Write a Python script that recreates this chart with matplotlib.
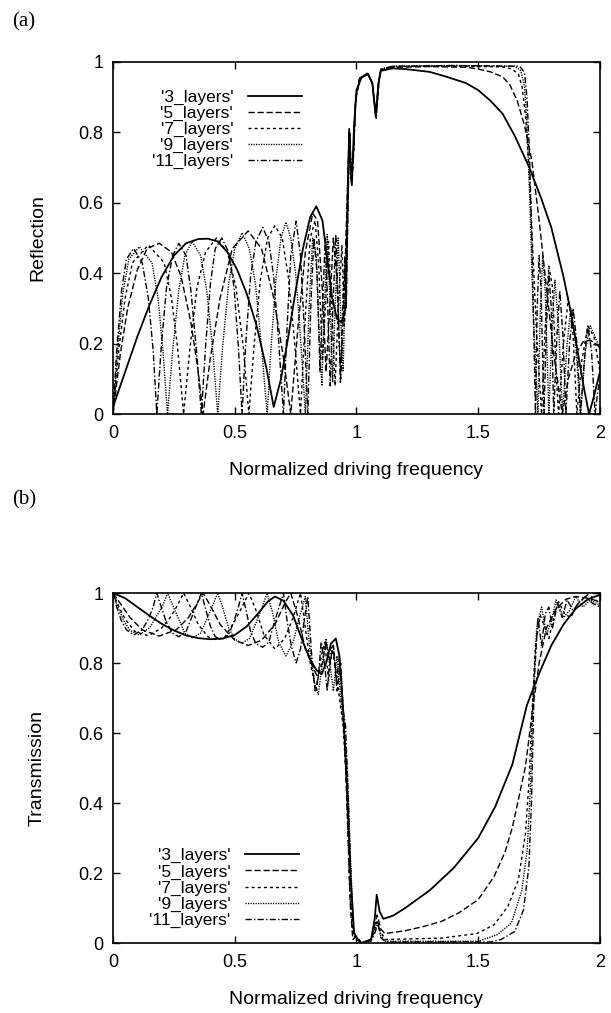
# -*- coding: utf-8 -*-
import numpy as np
from matplotlib import pyplot as plt

# (frequency, value) pairs
labels = ["'3_layers'", "'5_layers'", "'7_layers'", "'9_layers'", "'11_layers'"]

refl_3 = [(0.00, 0.02), (0.03, 0.08), (0.06, 0.14), (0.10, 0.22), (0.15, 0.31), (0.20, 0.39),
          (0.25, 0.45), (0.30, 0.485), (0.35, 0.497), (0.39, 0.498), (0.43, 0.49), (0.47, 0.46),
          (0.51, 0.41), (0.55, 0.34), (0.59, 0.25), (0.63, 0.13), (0.66, 0.02), (0.69, 0.10),
          (0.72, 0.22), (0.75, 0.35), (0.78, 0.47), (0.81, 0.56), (0.835, 0.59), (0.86, 0.55),
          (0.88, 0.44), (0.90, 0.33), (0.92, 0.27), (0.94, 0.26), (0.955, 0.30), (0.962, 0.55),
          (0.970, 0.81), (0.976, 0.70), (0.981, 0.65), (0.99, 0.82), (1.00, 0.92), (1.02, 0.955),
          (1.048, 0.966), (1.065, 0.94), (1.079, 0.845), (1.09, 0.94), (1.10, 0.975), (1.15, 0.982),
          (1.20, 0.98), (1.30, 0.972), (1.37, 0.958), (1.45, 0.94), (1.50, 0.92), (1.55, 0.89),
          (1.60, 0.853), (1.65, 0.79), (1.71, 0.70), (1.76, 0.61), (1.80, 0.53), (1.85, 0.39),
          (1.88, 0.29), (1.91, 0.17), (1.935, 0.07), (1.955, 0.0), (1.975, 0.05), (2.00, 0.12)]

refl_5 = [(0.00, 0.0), (0.03, 0.17), (0.06, 0.30), (0.10, 0.41), (0.14, 0.47), (0.19, 0.485),
          (0.24, 0.46), (0.28, 0.39), (0.32, 0.26), (0.35, 0.12), (0.37, 0.0), (0.40, 0.16),
          (0.44, 0.33), (0.49, 0.47), (0.555, 0.52), (0.61, 0.47), (0.66, 0.33), (0.70, 0.16),
          (0.73, 0.0), (0.76, 0.25), (0.79, 0.46), (0.82, 0.57), (0.84, 0.55), (0.86, 0.35),
          (0.875, 0.12), (0.89, 0.30), (0.905, 0.50), (0.92, 0.38), (0.935, 0.10), (0.95, 0.35),
          (0.962, 0.62), (0.970, 0.80), (0.978, 0.66), (0.985, 0.70), (0.995, 0.88), (1.01, 0.95),
          (1.045, 0.967), (1.065, 0.94), (1.08, 0.85), (1.09, 0.94), (1.10, 0.978), (1.15, 0.985),
          (1.30, 0.987), (1.45, 0.985), (1.50, 0.98), (1.55, 0.972), (1.60, 0.958), (1.63, 0.935),
          (1.66, 0.89), (1.69, 0.82), (1.72, 0.72), (1.75, 0.55), (1.78, 0.36), (1.81, 0.17),
          (1.845, 0.0), (1.87, 0.10), (1.90, 0.17), (1.93, 0.205), (1.96, 0.21), (1.98, 0.20),
          (2.00, 0.19)]

refl_7 = [(0.00, 0.0), (0.025, 0.19), (0.05, 0.33), (0.08, 0.43), (0.145, 0.48), (0.21, 0.43),
          (0.24, 0.33), (0.265, 0.19), (0.29, 0.0), (0.315, 0.18), (0.345, 0.36), (0.38, 0.46),
          (0.425, 0.50), (0.47, 0.46), (0.505, 0.36), (0.535, 0.19), (0.558, 0.0), (0.58, 0.20),
          (0.605, 0.38), (0.635, 0.50), (0.665, 0.535), (0.695, 0.50), (0.72, 0.39), (0.745, 0.21),
          (0.77, 0.0), (0.79, 0.28), (0.81, 0.50), (0.83, 0.55), (0.845, 0.42), (0.86, 0.15),
          (0.872, 0.30), (0.885, 0.49), (0.90, 0.28), (0.912, 0.08), (0.925, 0.30), (0.94, 0.48),
          (0.95, 0.25), (0.958, 0.35), (0.966, 0.65), (0.972, 0.80), (0.979, 0.66), (0.987, 0.72),
          (0.997, 0.90), (1.015, 0.955), (1.045, 0.968), (1.065, 0.94), (1.081, 0.84), (1.092, 0.94),
          (1.10, 0.978), (1.15, 0.987), (1.40, 0.988), (1.60, 0.986), (1.64, 0.98), (1.665, 0.965),
          (1.68, 0.93), (1.695, 0.84), (1.71, 0.68), (1.725, 0.45), (1.74, 0.22), (1.76, 0.0),
          (1.775, 0.25), (1.79, 0.42), (1.805, 0.36), (1.82, 0.12), (1.83, 0.0), (1.85, 0.20),
          (1.87, 0.33), (1.89, 0.22), (1.905, 0.0), (1.925, 0.15), (1.95, 0.25), (1.975, 0.22),
          (2.00, 0.12)]

refl_9 = [(0.00, 0.0), (0.02, 0.19), (0.04, 0.34), (0.065, 0.44), (0.108, 0.475), (0.16, 0.43),
          (0.185, 0.33), (0.205, 0.18), (0.224, 0.0), (0.245, 0.18), (0.27, 0.35), (0.295, 0.45),
          (0.325, 0.49), (0.36, 0.45), (0.385, 0.35), (0.41, 0.18), (0.43, 0.0), (0.45, 0.19),
          (0.475, 0.37), (0.50, 0.47), (0.53, 0.515), (0.56, 0.47), (0.585, 0.37), (0.61, 0.19),
          (0.633, 0.0), (0.65, 0.20), (0.67, 0.39), (0.69, 0.50), (0.71, 0.545), (0.73, 0.50),
          (0.75, 0.40), (0.77, 0.22), (0.79, 0.0), (0.805, 0.30), (0.82, 0.50), (0.835, 0.45),
          (0.848, 0.20), (0.858, 0.08), (0.868, 0.30), (0.88, 0.51), (0.892, 0.30), (0.902, 0.09),
          (0.913, 0.32), (0.925, 0.50), (0.935, 0.28), (0.945, 0.12), (0.955, 0.40), (0.965, 0.70),
          (0.971, 0.80), (0.978, 0.67), (0.987, 0.74), (0.997, 0.90), (1.015, 0.955), (1.045, 0.968),
          (1.065, 0.94), (1.08, 0.845), (1.092, 0.945), (1.10, 0.98), (1.15, 0.988), (1.40, 0.99),
          (1.65, 0.988), (1.675, 0.975), (1.69, 0.93), (1.70, 0.82), (1.712, 0.60), (1.725, 0.30),
          (1.745, 0.0), (1.755, 0.30), (1.765, 0.45), (1.775, 0.35), (1.79, 0.0), (1.803, 0.25),
          (1.815, 0.38), (1.83, 0.25), (1.846, 0.0), (1.865, 0.20), (1.88, 0.30), (1.90, 0.20),
          (1.92, 0.0), (1.94, 0.18), (1.96, 0.25), (1.98, 0.22), (2.00, 0.18)]

refl_11 = [(0.00, 0.0), (0.015, 0.18), (0.035, 0.35), (0.055, 0.44), (0.085, 0.47), (0.12, 0.43),
           (0.145, 0.33), (0.165, 0.18), (0.18, 0.0), (0.198, 0.19), (0.22, 0.36), (0.245, 0.45),
           (0.27, 0.485), (0.30, 0.45), (0.32, 0.35), (0.343, 0.18), (0.363, 0.0), (0.38, 0.19),
           (0.40, 0.37), (0.42, 0.47), (0.447, 0.50), (0.475, 0.46), (0.497, 0.36), (0.515, 0.19),
           (0.53, 0.0), (0.545, 0.20), (0.565, 0.39), (0.587, 0.49), (0.615, 0.53), (0.64, 0.49),
           (0.66, 0.39), (0.68, 0.21), (0.70, 0.0), (0.715, 0.25), (0.73, 0.45), (0.752, 0.548),
           (0.77, 0.45), (0.785, 0.25), (0.80, 0.0), (0.812, 0.30), (0.825, 0.50), (0.838, 0.40),
           (0.85, 0.12), (0.86, 0.30), (0.872, 0.50), (0.882, 0.30), (0.892, 0.08), (0.903, 0.30),
           (0.915, 0.51), (0.925, 0.30), (0.934, 0.09), (0.943, 0.30), (0.952, 0.45), (0.958, 0.30),
           (0.966, 0.62), (0.972, 0.80), (0.979, 0.68), (0.988, 0.75), (0.998, 0.90), (1.015, 0.955),
           (1.045, 0.968), (1.065, 0.94), (1.08, 0.845), (1.092, 0.945), (1.10, 0.98), (1.15, 0.988),
           (1.40, 0.99), (1.67, 0.988), (1.69, 0.97), (1.70, 0.90), (1.71, 0.75), (1.72, 0.50),
           (1.735, 0.0), (1.742, 0.30), (1.75, 0.45), (1.758, 0.35), (1.77, 0.0), (1.78, 0.25),
           (1.79, 0.40), (1.80, 0.30), (1.81, 0.0), (1.823, 0.22), (1.835, 0.35), (1.848, 0.22),
           (1.86, 0.0), (1.875, 0.20), (1.89, 0.30), (1.905, 0.20), (1.92, 0.0), (1.935, 0.15),
           (1.95, 0.25), (1.965, 0.18), (1.98, 0.0), (1.99, 0.06), (2.00, 0.10)]

trans_3 = [(0.00, 1.0), (0.05, 0.985), (0.10, 0.96), (0.15, 0.935), (0.20, 0.912), (0.25, 0.893),
           (0.30, 0.879), (0.35, 0.871), (0.40, 0.868), (0.45, 0.87), (0.50, 0.88), (0.55, 0.905),
           (0.60, 0.945), (0.635, 0.975), (0.665, 0.99), (0.70, 0.978), (0.74, 0.935), (0.78, 0.86),
           (0.81, 0.81), (0.835, 0.78), (0.857, 0.768), (0.875, 0.80), (0.895, 0.855), (0.915, 0.87),
           (0.93, 0.82), (0.945, 0.67), (0.96, 0.46), (0.975, 0.20), (0.99, 0.03), (1.00, 0.015),
           (1.02, 0.0), (1.06, 0.01), (1.075, 0.07), (1.083, 0.138), (1.095, 0.09), (1.11, 0.069),
           (1.15, 0.078), (1.20, 0.10), (1.30, 0.15), (1.40, 0.215), (1.50, 0.30), (1.57, 0.39),
           (1.64, 0.51), (1.70, 0.68), (1.75, 0.77), (1.80, 0.85), (1.85, 0.91), (1.90, 0.955),
           (1.95, 0.982), (2.00, 0.995)]

trans_5 = [(0.00, 1.0), (0.03, 0.97), (0.07, 0.93), (0.12, 0.895), (0.19, 0.877), (0.26, 0.895),
           (0.31, 0.93), (0.345, 0.97), (0.37, 1.0), (0.395, 0.97), (0.44, 0.91), (0.50, 0.865),
           (0.555, 0.85), (0.61, 0.865), (0.665, 0.91), (0.705, 0.97), (0.73, 1.0), (0.76, 0.93),
           (0.79, 0.84), (0.82, 0.79), (0.84, 0.76), (0.86, 0.80), (0.875, 0.86), (0.89, 0.80),
           (0.905, 0.85), (0.92, 0.72), (0.935, 0.80), (0.95, 0.60), (0.963, 0.35), (0.975, 0.10),
           (0.985, 0.01), (1.00, 0.02), (1.02, 0.0), (1.06, 0.01), (1.075, 0.05), (1.085, 0.08),
           (1.10, 0.04), (1.116, 0.027), (1.20, 0.035), (1.28, 0.048), (1.35, 0.062), (1.42, 0.086),
           (1.50, 0.124), (1.565, 0.19), (1.61, 0.26), (1.64, 0.33), (1.665, 0.41), (1.694, 0.505),
           (1.72, 0.65), (1.75, 0.80), (1.78, 0.90), (1.82, 0.955), (1.86, 0.982), (1.90, 0.99),
           (1.95, 0.985), (2.00, 0.975)]

trans_7 = [(0.00, 1.0), (0.025, 0.96), (0.05, 0.925), (0.09, 0.89), (0.145, 0.878), (0.20, 0.90),
           (0.24, 0.935), (0.265, 0.965), (0.29, 1.0), (0.315, 0.965), (0.35, 0.91), (0.39, 0.875),
           (0.425, 0.866), (0.46, 0.875), (0.50, 0.92), (0.53, 0.96), (0.558, 1.0), (0.585, 0.955),
           (0.62, 0.88), (0.665, 0.84), (0.705, 0.87), (0.74, 0.93), (0.77, 1.0), (0.79, 0.90),
           (0.81, 0.80), (0.835, 0.72), (0.855, 0.82), (0.87, 0.86), (0.885, 0.75), (0.90, 0.84),
           (0.915, 0.78), (0.93, 0.70), (0.945, 0.62), (0.96, 0.45), (0.972, 0.15), (0.985, 0.02),
           (1.00, 0.015), (1.02, 0.0), (1.06, 0.01), (1.075, 0.04), (1.086, 0.065), (1.10, 0.03),
           (1.12, 0.01), (1.35, 0.014), (1.494, 0.027), (1.565, 0.052), (1.622, 0.105), (1.665, 0.181),
           (1.694, 0.314), (1.708, 0.457), (1.72, 0.65), (1.735, 0.85), (1.755, 0.935), (1.775, 0.90),
           (1.79, 0.87), (1.81, 0.93), (1.83, 0.975), (1.855, 0.94), (1.88, 0.93), (1.91, 0.97),
           (1.95, 0.995), (1.975, 0.985), (2.00, 0.97)]

trans_9 = [(0.00, 1.0), (0.02, 0.96), (0.045, 0.92), (0.07, 0.893), (0.108, 0.88), (0.15, 0.90),
           (0.18, 0.935), (0.205, 0.965), (0.224, 1.0), (0.245, 0.965), (0.27, 0.925), (0.295, 0.885),
           (0.325, 0.872), (0.36, 0.885), (0.385, 0.925), (0.41, 0.965), (0.43, 1.0), (0.45, 0.96),
           (0.475, 0.90), (0.50, 0.868), (0.53, 0.857), (0.56, 0.87), (0.585, 0.91), (0.61, 0.955),
           (0.633, 1.0), (0.655, 0.945), (0.68, 0.86), (0.71, 0.82), (0.74, 0.86), (0.765, 0.93),
           (0.79, 0.99), (0.805, 0.86), (0.825, 0.75), (0.843, 0.71), (0.86, 0.80), (0.875, 0.87),
           (0.89, 0.80), (0.905, 0.72), (0.92, 0.82), (0.935, 0.70), (0.95, 0.60), (0.962, 0.50),
           (0.975, 0.25), (0.988, 0.03), (1.00, 0.015), (1.02, 0.0), (1.06, 0.01), (1.075, 0.035),
           (1.088, 0.06), (1.10, 0.02), (1.12, 0.005), (1.50, 0.005), (1.579, 0.024), (1.636, 0.057),
           (1.679, 0.15), (1.701, 0.267), (1.715, 0.457), (1.725, 0.70), (1.74, 0.90), (1.76, 0.96),
           (1.78, 0.88), (1.80, 0.92), (1.82, 0.98), (1.85, 0.93), (1.875, 0.95), (1.90, 0.99),
           (1.93, 0.96), (1.96, 0.98), (2.00, 0.965)]

trans_11 = [(0.00, 1.0), (0.015, 0.96), (0.035, 0.92), (0.055, 0.895), (0.085, 0.88), (0.12, 0.895),
            (0.145, 0.925), (0.165, 0.96), (0.18, 1.0), (0.198, 0.96), (0.22, 0.915), (0.245, 0.885),
            (0.27, 0.875), (0.30, 0.89), (0.32, 0.925), (0.343, 0.965), (0.363, 1.0), (0.38, 0.955),
            (0.40, 0.905), (0.42, 0.875), (0.447, 0.866), (0.475, 0.88), (0.497, 0.92), (0.515, 0.96),
            (0.53, 1.0), (0.545, 0.955), (0.565, 0.89), (0.587, 0.855), (0.615, 0.845), (0.64, 0.86),
            (0.66, 0.91), (0.68, 0.955), (0.70, 1.0), (0.715, 0.92), (0.732, 0.85), (0.752, 0.80),
            (0.77, 0.84), (0.785, 0.92), (0.80, 0.99), (0.815, 0.83), (0.83, 0.72), (0.843, 0.76),
            (0.855, 0.86), (0.868, 0.80), (0.88, 0.72), (0.893, 0.84), (0.905, 0.85), (0.918, 0.75),
            (0.93, 0.82), (0.942, 0.68), (0.955, 0.62), (0.967, 0.40), (0.98, 0.12), (0.99, 0.02),
            (1.00, 0.01), (1.02, 0.0), (1.06, 0.005), (1.076, 0.03), (1.088, 0.055), (1.10, 0.015),
            (1.12, 0.003), (1.55, 0.003), (1.594, 0.01), (1.65, 0.033), (1.686, 0.095), (1.708, 0.219),
            (1.719, 0.41), (1.73, 0.75), (1.745, 0.93), (1.76, 0.85), (1.775, 0.94), (1.79, 0.96),
            (1.805, 0.90), (1.825, 0.97), (1.845, 0.93), (1.865, 0.98), (1.89, 0.95), (1.915, 0.975),
            (1.94, 0.99), (1.97, 0.97), (2.00, 0.96)]

refl_data = [refl_3, refl_5, refl_7, refl_9, refl_11]
trans_data = [trans_3, trans_5, trans_7, trans_9, trans_11]

STYLES = [
    dict(linestyle="-", linewidth=1.3),
    dict(linestyle=(0, (4.5, 2.0)), linewidth=1.0),
    dict(linestyle=(0, (2.2, 2.2)), linewidth=1.0),
    dict(linestyle=(0, (0.9, 0.9)), linewidth=1.0),
    dict(linestyle=(0, (4.5, 1.6, 1.0, 1.6)), linewidth=1.0),
]

W, H = 611, 1013
DPI = 100


def main():
    plt.rcParams["font.family"] = ["Liberation Sans", "DejaVu Sans"]
    fig = plt.figure(figsize=(W / DPI, H / DPI), dpi=DPI)

    ax_r = fig.add_axes(px_rect(113, 62, 600, 414))
    ax_t = fig.add_axes(px_rect(113, 593, 600, 943))

    for data, style, lab in zip(refl_data, STYLES, labels):
        xs, ys = split(data)
        ax_r.plot(xs, ys, color="black", label=lab, **style)
    for data, style, lab in zip(trans_data, STYLES, labels):
        xs, ys = split(data)
        ax_t.plot(xs, ys, color="black", label=lab, **style)

    setup_axis(ax_r, "Reflection")
    setup_axis(ax_t, "Transmission")
    add_legend(ax_r, (0.388, 0.922))
    add_legend(ax_t, (0.382, 0.271))

    fig.text(12 / W, 1 - 22 / H, "(a)", family="Liberation Serif", fontsize=15, va="center")
    fig.text(12 / W, 1 - 500 / H, "(b)", family="Liberation Serif", fontsize=15, va="center")

    fig.savefig("out.png", dpi=DPI, facecolor="white")


def px_rect(x0, y0, x1, y1):
    return [x0 / W, 1 - y1 / H, (x1 - x0) / W, (y1 - y0) / H]


def split(pairs):
    arr = np.array(pairs)
    return arr[:, 0], arr[:, 1]


def setup_axis(ax, ylabel):
    ax.set_xlim(0, 2)
    ax.set_ylim(0, 1)
    ax.set_xticks([0, 0.5, 1, 1.5, 2])
    ax.set_xticklabels(["0", "0.5", "1", "1.5", "2"])
    ax.set_yticks([0, 0.2, 0.4, 0.6, 0.8, 1])
    ax.set_yticklabels(["0", "0.2", "0.4", "0.6", "0.8", "1"])
    ax.tick_params(direction="in", length=5, width=1.0, top=True, right=True,
                   labelsize=13, color="black")
    ax.tick_params(axis="x", pad=8)
    ax.tick_params(axis="y", pad=7)
    for sp in ax.spines.values():
        sp.set_linewidth(1.2)
    ax.set_xlabel("Normalized driving frequency", fontsize=14, va="center")
    ax.xaxis.set_label_coords(0.5, -0.16)
    ax.set_ylabel(ylabel, fontsize=14, va="center")
    ax.yaxis.set_label_coords(-0.155, 0.5)


def add_legend(ax, anchor):
    # markerfirst=False puts the key after the text, rows right-aligned as in gnuplot
    ax.legend(loc="upper right", bbox_to_anchor=anchor, frameon=False,
              markerfirst=False, fontsize=12.5, handlelength=3.1,
              handletextpad=0.86, labelspacing=0.05, borderpad=0,
              borderaxespad=0)


if __name__ == '__main__':
    main()
